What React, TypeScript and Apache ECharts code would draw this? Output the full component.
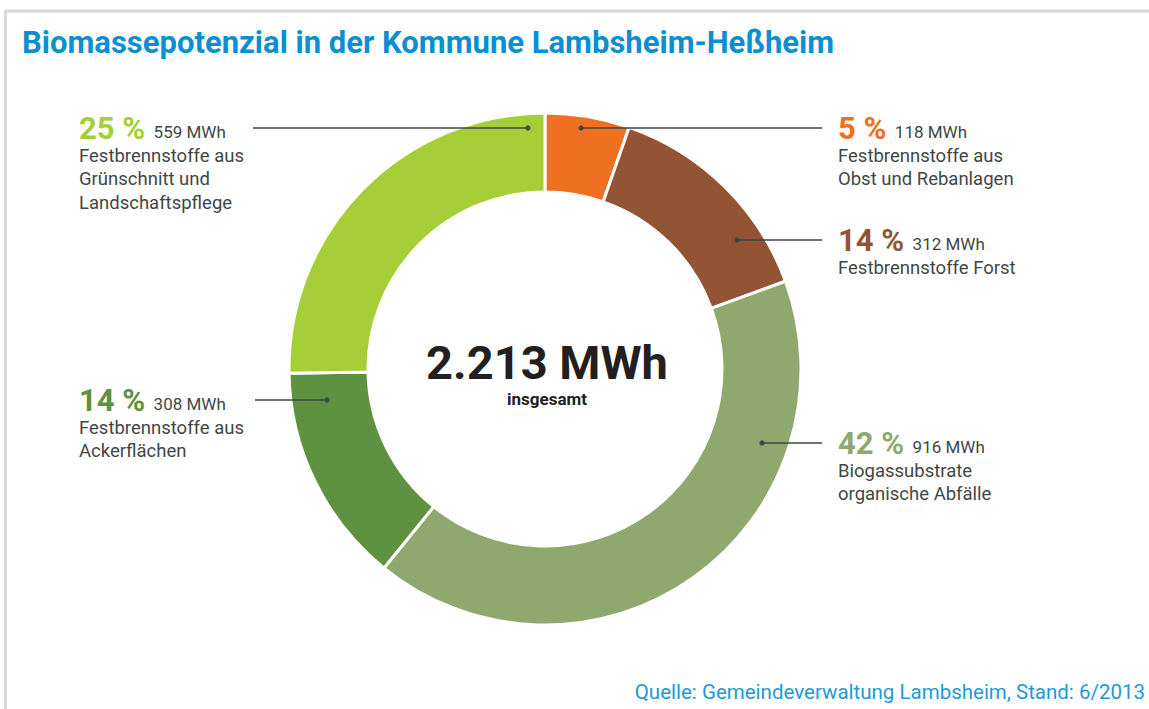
import React, { useEffect, useRef } from "react";
import * as echarts from "echarts";

const titleText = "Biomassepotenzial in der Kommune Lambsheim-Heßheim";
const sourceText = "Quelle: Gemeindeverwaltung Lambsheim, Stand: 6/2013";
const categories = [
  "Festbrennstoffe aus Obst und Rebanlagen",
  "Festbrennstoffe Forst",
  "Biogassubstrate organische Abfälle",
  "Festbrennstoffe aus Ackerflächen",
  "Festbrennstoffe aus Grünschnitt und Landschaftspflege",
];
const values = [118, 312, 916, 308, 559];
const percents = [5, 14, 42, 14, 25];
const labelLines = [
  ["Festbrennstoffe aus", "Obst und Rebanlagen"],
  ["Festbrennstoffe Forst"],
  ["Biogassubstrate", "organische Abfälle"],
  ["Festbrennstoffe aus", "Ackerflächen"],
  ["Festbrennstoffe aus", "Grünschnitt und", "Landschaftspflege"],
];
const colors = ["#f07022", "#935436", "#8fa86d", "#5e9140", "#a6ce39"];
const totalLabel = "insgesamt";

// layout of annotation blocks (text x, leader line y, dot x, line end x)
const labelLayout = [
  { x: 838, lineY: 128, dotX: 581, endX: 822 },
  { x: 838, lineY: 240, dotX: 737, endX: 822 },
  { x: 838, lineY: 443, dotX: 762, endX: 822 },
  { x: 79, lineY: 400, dotX: 327, endX: 255 },
  { x: 79, lineY: 128, dotX: 528, endX: 253 },
];

const FONT = "Roboto, 'Noto Sans', sans-serif";
const TEXT_COLOR = "#3f4745";

function formatDe(n: number) {
  return String(n).replace(/\B(?=(\d{3})+(?!\d))/g, ".");
}

export default function App() {
  const ref = useRef<HTMLDivElement>(null);
  useEffect(() => {
    document.body.style.margin = "0";
    if (!ref.current) return;
    const chart = echarts.init(ref.current, null, { renderer: "svg" });
    const total = values.reduce((a, b) => a + b, 0);

    const graphics: any[] = [
      { type: "line", shape: { x1: 5, y1: 11, x2: 1149, y2: 11 }, style: { stroke: "#d8d8d8", lineWidth: 3 } },
      { type: "line", shape: { x1: 5.5, y1: 10, x2: 5.5, y2: 709 }, style: { stroke: "#d8d8d8", lineWidth: 3 } },
      {
        type: "text",
        x: 22,
        y: 42,
        style: { text: titleText, font: `bold 31px ${FONT}`, fill: "#0b8fd2", verticalAlign: "middle" },
      },
      {
        type: "text",
        x: 1145,
        y: 692,
        style: { text: sourceText, font: `20.5px ${FONT}`, fill: "#1d9ad8", align: "right", verticalAlign: "middle" },
      },
      {
        type: "text",
        x: 547,
        y: 362,
        style: {
          text: formatDe(total) + " MWh",
          font: `bold 47px ${FONT}`,
          fill: "#231f20",
          align: "center",
          verticalAlign: "middle",
        },
      },
      {
        type: "text",
        x: 547,
        y: 399,
        style: { text: totalLabel, font: `bold 17px ${FONT}`, fill: "#231f20", align: "center", verticalAlign: "middle" },
      },
    ];

    labelLayout.forEach((l, i) => {
      graphics.push({
        type: "line",
        shape: { x1: l.dotX, y1: l.lineY, x2: l.endX, y2: l.lineY },
        style: { stroke: "#3f4745", lineWidth: 1.3 },
        z: 10,
      });
      graphics.push({
        type: "circle",
        shape: { cx: l.dotX, cy: l.lineY, r: 2.6 },
        style: { fill: "#3f4745" },
        z: 10,
      });
      const text =
        `{p|${percents[i]} %}{v|  ${values[i]} MWh}\n` + labelLines[i].map((s) => `{d|${s}}`).join("\n");
      graphics.push({
        type: "text",
        x: l.x,
        y: l.lineY - 18,
        style: {
          text,
          rich: {
            p: { font: `bold 31px ${FONT}`, fill: colors[i], lineHeight: 34, verticalAlign: "bottom" },
            v: { font: `17px ${FONT}`, fill: TEXT_COLOR, lineHeight: 34, verticalAlign: "bottom", padding: [0, 0, 4, 0] },
            d: { font: `18.5px ${FONT}`, fill: TEXT_COLOR, lineHeight: 23.5 },
          },
        },
      });
    });

    chart.setOption({
      animation: false,
      backgroundColor: "#ffffff",
      series: [
        {
          type: "pie",
          center: [545, 369],
          radius: [177, 256],
          startAngle: 90,
          clockwise: true,
          silent: true,
          label: { show: false },
          labelLine: { show: false },
          itemStyle: { borderColor: "#ffffff", borderWidth: 3 },
          data: categories.map((name, i) => ({ name, value: values[i], itemStyle: { color: colors[i] } })),
        },
      ],
      graphic: graphics,
    });
    return () => chart.dispose();
  }, []);
  return <div ref={ref} style={{ width: 1149, height: 709 }} />;
}
